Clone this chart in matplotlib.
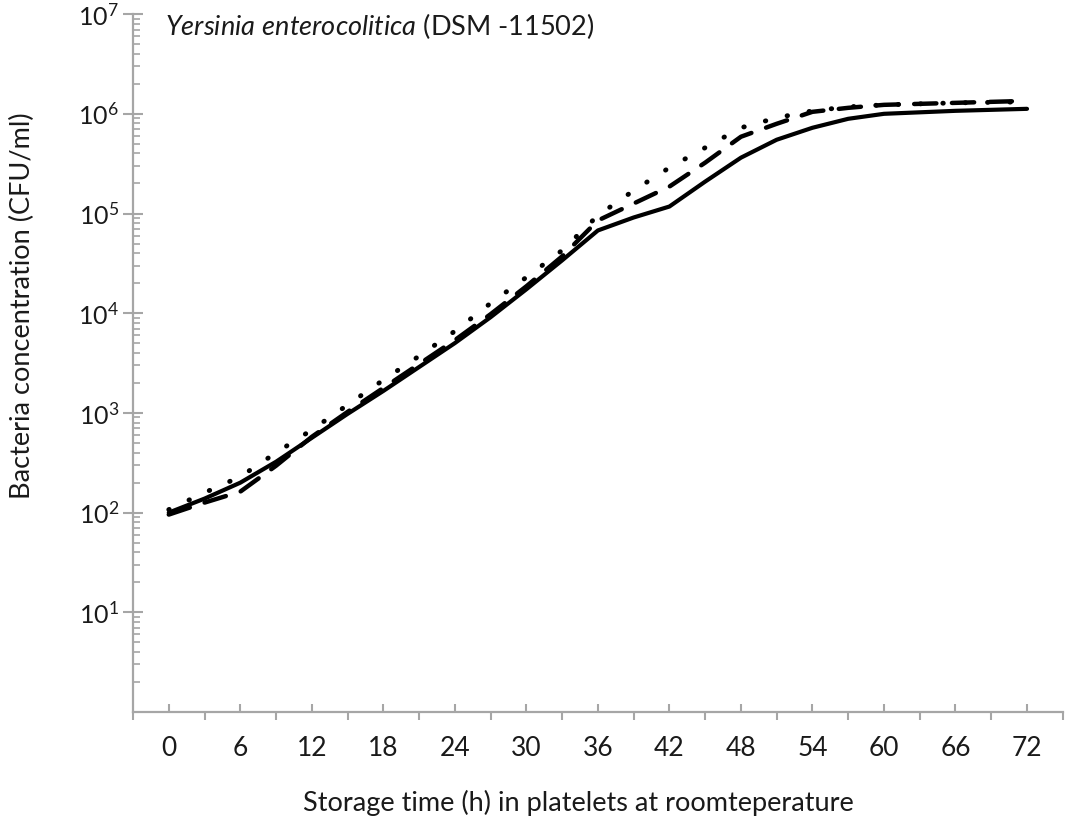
import matplotlib
matplotlib.use("Agg")
import matplotlib.pyplot as plt
import numpy as np
from matplotlib.ticker import FixedLocator, LogLocator, NullFormatter, FixedFormatter

plt.rcParams['font.family'] = ['Lato', 'DejaVu Sans']
plt.rcParams['mathtext.fontset'] = 'custom'
plt.rcParams['mathtext.rm'] = 'Lato'
plt.rcParams['mathtext.it'] = 'Lato:italic'

# Storage time (h)
hours = [0, 3, 6, 9, 12, 15, 18, 21, 24, 27, 30, 33, 36, 39, 42, 45, 48, 51, 54, 57, 60, 66, 72]
# log10 CFU/ml
log_solid = [2.00, 2.14, 2.30, 2.51, 2.75, 2.99, 3.22, 3.46, 3.70, 3.96, 4.24, 4.53, 4.83, 4.96, 5.07,
             5.32, 5.56, 5.74, 5.86, 5.95, 6.00, 6.03, 6.05]
log_dashed = [1.98, 2.10, 2.21, 2.47, 2.76, 3.01, 3.25, 3.49, 3.73, 3.99, 4.27, 4.57, 4.93, 5.10, 5.27,
              5.51, 5.77, 5.90, 6.02, 6.06, 6.09, 6.11, 6.13]
log_dotted = [2.03, 2.20, 2.36, 2.60, 2.83, 3.08, 3.33, 3.57, 3.82, 4.10, 4.36, 4.63, 4.98, 5.23, 5.46,
              5.66, 5.86, 5.96, 6.03, 6.07, 6.09, 6.11, 6.12]

x_tick_values = list(range(0, 73, 6))
x_tick_labels = [str(v) for v in x_tick_values]
y_tick_values = [1e1, 1e2, 1e3, 1e4, 1e5, 1e6, 1e7]
y_tick_labels = [r'$10^{%d}$' % e for e in range(1, 8)]

title_text = r'$\it{Yersinia\ enterocolitica}$ (DSM -11502)'
xlabel_text = 'Storage time (h) in platelets at roomteperature'
ylabel_text = 'Bacteria concentration (CFU/ml)'

fig = plt.figure(figsize=(10.65, 8.21), dpi=100)
ax = fig.add_axes([0.1249, 0.1328, 0.873, 0.850])

h = np.array(hours)
ax.plot(h, 10 ** np.array(log_dotted), color='black', lw=3.5, linestyle=(0, (0.1, 4.5)),
        dash_capstyle='round', solid_capstyle='round')
ax.plot(h, 10 ** np.array(log_dashed), color='black', lw=3.2, linestyle=(0, (5, 3.5)),
        dash_capstyle='round')
ax.plot(h, 10 ** np.array(log_solid), color='black', lw=3.0, solid_capstyle='round')

ax.set_yscale('log')
ax.set_ylim(1, 1e7)
ax.set_xlim(-3, 75)

grey = '#a6a6a6'
for s in ['top', 'right']:
    ax.spines[s].set_visible(False)
for s in ['left', 'bottom']:
    ax.spines[s].set_color(grey)
    ax.spines[s].set_linewidth(1.6)

ax.xaxis.set_major_locator(FixedLocator(x_tick_values))
ax.xaxis.set_major_formatter(FixedFormatter(x_tick_labels))
ax.xaxis.set_minor_locator(FixedLocator(list(range(-3, 76, 6))))
ax.tick_params(axis='x', which='major', direction='in', length=6, width=1.5, color=grey,
               labelsize=19, pad=17, labelcolor='#1a1a1a')
ax.tick_params(axis='x', which='minor', direction='out', length=6, width=1.5, color=grey)

ax.yaxis.set_major_locator(FixedLocator(y_tick_values))
ax.yaxis.set_major_formatter(FixedFormatter(y_tick_labels))
ax.yaxis.set_minor_locator(LogLocator(base=10, subs=np.arange(2, 10), numticks=20))
ax.yaxis.set_minor_formatter(NullFormatter())
ax.tick_params(axis='y', which='major', direction='inout', length=14, width=1.5, color=grey,
               labelsize=18, pad=3, labelcolor='#1a1a1a')
ax.tick_params(axis='y', which='minor', direction='in', length=5, width=1.2, color=grey)

ax.text(0.0344, 0.970, title_text, transform=ax.transAxes, fontsize=19.5, color='#1a1a1a',
        ha='left', va='baseline')

fig.text(0.543, 0.022, xlabel_text, fontsize=19.5, color='#1a1a1a', ha='center', va='center')
fig.text(0.021, 0.628, ylabel_text, fontsize=19.5, color='#1a1a1a', ha='center', va='center',
         rotation=90)

fig.savefig('out.png', dpi=100)
